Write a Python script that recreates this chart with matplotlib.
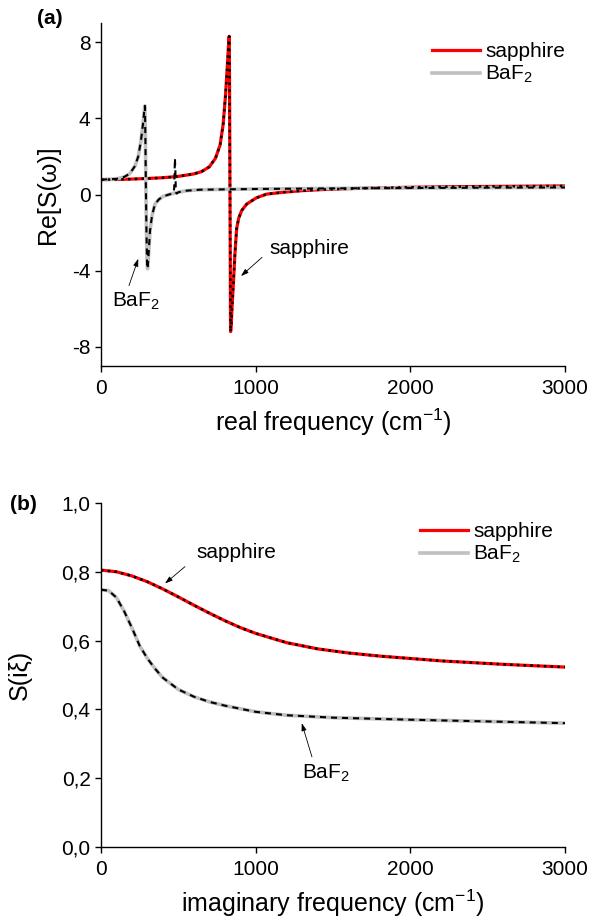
import numpy as np
import matplotlib.pyplot as plt
from matplotlib.ticker import FuncFormatter

plt.rcParams['font.family'] = ['Liberation Sans', 'DejaVu Sans']
plt.rcParams['mathtext.fontset'] = 'custom'
plt.rcParams['mathtext.rm'] = 'Liberation Sans'
plt.rcParams['mathtext.it'] = 'Liberation Sans:italic'
plt.rcParams['mathtext.bf'] = 'Liberation Sans:bold'
plt.rcParams['axes.unicode_minus'] = False

# (a) real frequency, Re[S(w)]
w_sap = [0, 100, 200, 300, 400, 500, 600, 650, 700, 740, 770, 790, 805, 815, 822, 827, 829,
         831, 833, 835, 837, 838, 842, 848, 855, 866, 877, 890, 909, 942, 1006, 1071, 1180,
         1300, 1460, 1700, 2000, 2300, 2600, 3000]
re_sap = [0.78, 0.79, 0.81, 0.84, 0.88, 0.95, 1.08, 1.2, 1.45, 1.9, 2.6, 3.7, 5.2, 6.5, 7.5, 8.2, 8.3,
          6.0, 2.0, -2.0, -6.0, -7.2, -6.8, -5.8, -4.8, -3.1, -1.8, -1.25, -0.85, -0.5, -0.17, 0.02, 0.12,
          0.2, 0.27, 0.33, 0.38, 0.41, 0.43, 0.45]

w_baf = [0, 100, 150, 187, 220, 241, 258, 273, 281, 284, 287, 290, 294, 298, 301, 305, 310, 317,
         330, 349, 375, 402, 440, 466, 500, 553, 640, 800, 1000, 1500, 2000, 2500, 3000]
re_baf = [0.78, 0.82, 0.92, 1.1, 1.5, 2.0, 2.8, 3.8, 4.5, 4.65, 3.0, 0.5, -2.0, -3.6, -3.9, -3.5, -2.8, -1.9,
          -1.1, -0.5, -0.25, -0.1, 0.0, 0.06, 0.12, 0.2, 0.25, 0.27, 0.29, 0.32, 0.34, 0.36, 0.37]

# fitted BaF2 curve (dashed) has an extra weak mode near 480 cm-1
w_baf_fit = [0, 100, 150, 187, 220, 241, 258, 273, 281, 284, 287, 290, 294, 298, 301, 305, 310, 317,
             330, 349, 375, 402, 440, 465, 473, 478, 481, 484, 490, 500, 553, 640, 800, 1000, 1500,
             2000, 2500, 3000]
re_baf_fit = [0.78, 0.82, 0.92, 1.1, 1.5, 2.0, 2.8, 3.8, 4.5, 4.65, 3.0, 0.5, -2.0, -3.6, -3.9, -3.5, -2.8, -1.9,
              -1.1, -0.5, -0.25, -0.1, 0.0, 0.05, 0.3, 1.9, 1.2, 0.1, 0.05, 0.12, 0.2, 0.25, 0.27, 0.29, 0.32,
              0.34, 0.36, 0.37]

# (b) imaginary frequency, S(i xi)
xi_sap = [0, 100, 200, 300, 400, 500, 600, 700, 800, 900, 1000, 1200, 1400, 1600, 1800, 2000,
          2200, 2400, 2600, 2800, 3000]
s_sap = [0.805, 0.80, 0.788, 0.771, 0.75, 0.727, 0.703, 0.68, 0.658, 0.638, 0.621, 0.594, 0.576,
         0.564, 0.555, 0.548, 0.541, 0.536, 0.531, 0.527, 0.523]

xi_baf = [0, 50, 100, 150, 200, 250, 300, 350, 400, 500, 600, 700, 800, 1000, 1200, 1500, 2000,
          2500, 3000]
s_baf = [0.748, 0.745, 0.725, 0.685, 0.637, 0.585, 0.548, 0.518, 0.492, 0.458, 0.437, 0.422, 0.411,
         0.393, 0.383, 0.376, 0.37, 0.365, 0.36]

red = '#ff0000'
gray = '#c0c0c0'
dot = (0, (1, 1.7))
dash = (0, (2.9, 2.4))
arrow = dict(arrowstyle='-|>,head_length=0.45,head_width=0.15', color='k', lw=0.6,
             shrinkA=0, shrinkB=0)

fig = plt.figure(figsize=(5.92, 9.24), dpi=100)
ax1 = fig.add_axes([101 / 592, 1 - 366 / 924, 464 / 592, 343 / 924])
ax2 = fig.add_axes([101 / 592, 1 - 847 / 924, 464 / 592, 344 / 924])


def style(ax):
    for s in ['top', 'right']:
        ax.spines[s].set_visible(False)
    for s in ['left', 'bottom']:
        ax.spines[s].set_linewidth(1.0)
    ax.tick_params(direction='out', length=4.5, width=1.0, labelsize=15, pad=3)
    ax.tick_params(axis='x', pad=5)
    ax.set_xlim(0, 3000)
    ax.set_xticks([0, 1000, 2000, 3000])


# panel (a)
ax1.plot(w_sap, re_sap, color=red, lw=2.3, label='sapphire')
ax1.plot(w_baf, re_baf, color=gray, lw=2.6, label='BaF$_2$')
ax1.plot(w_sap, re_sap, color='k', lw=1.8, ls=dot)
ax1.plot(w_baf_fit, re_baf_fit, color='k', lw=1.5, ls=dash)
style(ax1)
ax1.set_ylim(-9, 9)
ax1.set_yticks([-8, -4, 0, 4, 8])
ax1.set_xlabel('real frequency (cm$^{-1}$)', fontsize=18, labelpad=6)
ax1.set_ylabel('Re[S(ω)]', fontsize=18)
ax1.yaxis.set_label_coords(-0.088, 0.5)
ax1.legend(loc='upper left', bbox_to_anchor=(0.713, 0.945), frameon=False, fontsize=15,
           handlelength=2.3, handletextpad=0.25, labelspacing=0.15, borderpad=0, borderaxespad=0)
ax1.annotate('', xy=(905, -4.28), xytext=(1041, -3.3), arrowprops=arrow)
ax1.text(1345, -2.85, 'sapphire', fontsize=15, ha='center', va='center')
ax1.annotate('', xy=(241, -3.37), xytext=(181, -4.78), arrowprops=arrow)
ax1.text(226, -5.6, 'BaF$_2$', fontsize=15, ha='center', va='center')

# panel (b)
ax2.plot(xi_sap, s_sap, color=red, lw=2.3, label='sapphire')
ax2.plot(xi_baf, s_baf, color=gray, lw=2.6, label='BaF$_2$')
ax2.plot(xi_sap, s_sap, color='k', lw=1.8, ls=dot)
ax2.plot(xi_baf, s_baf, color='k', lw=1.5, ls=dash)
style(ax2)
ax2.set_ylim(0, 1.0)
ax2.set_yticks([0, 0.2, 0.4, 0.6, 0.8, 1.0])
ax2.yaxis.set_major_formatter(FuncFormatter(lambda v, p: ('%.1f' % v).replace('.', ',')))
ax2.set_xlabel('imaginary frequency (cm$^{-1}$)', fontsize=18, labelpad=6)
ax2.set_ylabel('S(iξ)', fontsize=18)
ax2.yaxis.set_label_coords(-0.15, 0.5)
ax2.legend(loc='upper left', bbox_to_anchor=(0.6875, 0.945), frameon=False, fontsize=15,
           handlelength=2.3, handletextpad=0.25, labelspacing=0.15, borderpad=0, borderaxespad=0)
ax2.annotate('', xy=(414, 0.766), xytext=(543, 0.815), arrowprops=arrow)
ax2.text(873, 0.855, 'sapphire', fontsize=15, ha='center', va='center')
ax2.annotate('', xy=(1298, 0.36), xytext=(1364, 0.262), arrowprops=arrow)
ax2.text(1455, 0.215, 'BaF$_2$', fontsize=15, ha='center', va='center')

fig.text(50 / 592, 1 - 19 / 924, '(a)', fontsize=15, fontweight='bold', ha='center', va='center')
fig.text(23.5 / 592, 1 - 505 / 924, '(b)', fontsize=15, fontweight='bold', ha='center', va='center')

fig.savefig('out.png', dpi=100)
